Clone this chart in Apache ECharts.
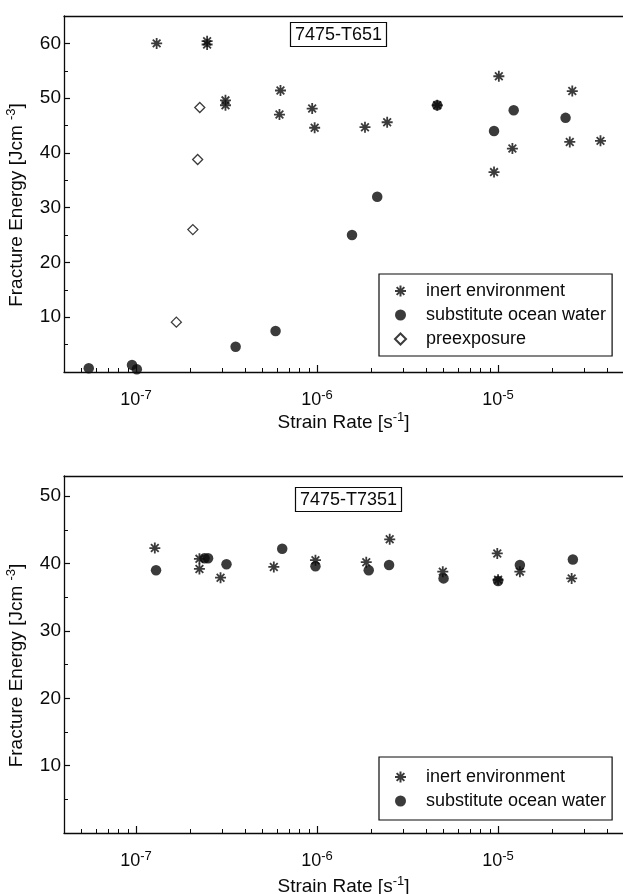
<!DOCTYPE html>
<html>
<head>
<meta charset="utf-8">
<script src="https://cdn.jsdelivr.net/npm/echarts@6/dist/echarts.min.js"></script>
<style>
  html, body { margin: 0; padding: 0; background: #fff; }
  #chart { width: 623px; height: 894px; }
</style>
</head>
<body>
<div id="chart"></div>
<script>
// strain rate range shown on both panels
var xMin = 4e-8, xMax = 4.9e-5;
var majorExp = [-7, -6, -5];
var yTicksTop = [10, 20, 30, 40, 50, 60];
var yMinorTop = [5, 15, 25, 35, 45, 55];
var yTicksBot = [10, 20, 30, 40, 50];
var yMinorBot = [5, 15, 25, 35, 45];

// 7475-T651
var inertT651X = [1.30e-7, 2.47e-7, 2.47e-7, 3.12e-7, 3.12e-7, 6.28e-7, 6.2e-7, 9.4e-7, 9.7e-7, 1.84e-6, 2.44e-6, 4.61e-6, 1.01e-5, 1.2e-5, 9.5e-6, 2.57e-5, 2.49e-5, 3.68e-5];
var inertT651Y = [60, 60.4, 59.8, 49.6, 48.7, 51.4, 47.0, 48.1, 44.6, 44.7, 45.6, 48.7, 54.0, 40.8, 36.5, 51.3, 42.0, 42.2];
var waterT651X = [5.48e-8, 9.5e-8, 1.01e-7, 3.55e-7, 5.9e-7, 1.56e-6, 2.15e-6, 4.61e-6, 9.5e-6, 1.22e-5, 2.36e-5];
var waterT651Y = [0.7, 1.3, 0.5, 4.6, 7.5, 25.0, 32.0, 48.7, 44.0, 47.8, 46.4];
var preX = [1.67e-7, 2.06e-7, 2.19e-7, 2.25e-7];
var preY = [9.1, 26.0, 38.8, 48.3];

// 7475-T7351
var inertT7351X = [1.27e-7, 2.24e-7, 2.24e-7, 2.93e-7, 5.77e-7, 9.8e-7, 1.87e-6, 2.52e-6, 4.95e-6, 9.9e-6, 1.0e-5, 1.32e-5, 2.55e-5];
var inertT7351Y = [42.3, 40.7, 39.2, 37.9, 39.5, 40.5, 40.2, 43.6, 38.8, 41.5, 37.6, 38.8, 37.8];
var waterT7351X = [1.29e-7, 2.39e-7, 2.5e-7, 3.16e-7, 6.42e-7, 9.8e-7, 1.93e-6, 2.5e-6, 5.0e-6, 1.0e-5, 1.32e-5, 2.59e-5];
var waterT7351Y = [39.0, 40.8, 40.8, 39.9, 42.2, 39.6, 39.0, 39.8, 37.8, 37.4, 39.8, 40.6];

var ink = '#0a0a0a';
var font = "'Liberation Sans', Arial, sans-serif";
var asterisk = 'path://M5,0L5,10M0,5L10,5M1.5,1.5L8.5,8.5M1.5,8.5L8.5,1.5';

function zip(xs, ys) {
  return xs.map(function (x, i) { return [x, ys[i]]; });
}

var lgMin = Math.log10(xMin), lgMax = Math.log10(xMax);
var minorExp = [];
for (var d = -8; d <= -5; d++) {
  for (var k = 2; k <= 9; k++) {
    var v = Math.log10(k) + d;
    if (v > lgMin && v < lgMax) minorExp.push(v);
  }
}

var supRich = {
  b: { fontSize: 18, fontFamily: font, color: ink, lineHeight: 22 },
  s: { fontSize: 13, fontFamily: font, color: ink, verticalAlign: 'top', lineHeight: 14 }
};
var nameRich = {
  n: { fontSize: 19, fontFamily: font, color: ink, lineHeight: 24 },
  s: { fontSize: 13, fontFamily: font, color: ink, verticalAlign: 'top', lineHeight: 15 }
};

function xAxes(g, gap) {
  return [{
    type: 'log', gridIndex: g, position: 'bottom', min: xMin, max: xMax, logBase: 10,
    axisLine: { onZero: false, lineStyle: { color: ink, width: 1.3 } },
    axisTick: { show: false }, axisLabel: { show: false }, splitLine: { show: false },
    name: '{n|Strain Rate [s}{s|-1}{n|]}', nameLocation: 'middle', nameGap: gap,
    nameTextStyle: { rich: nameRich }
  }, {
    type: 'value', gridIndex: g, position: 'bottom', min: lgMin, max: lgMax,
    axisLine: { show: false, onZero: false },
    axisTick: { inside: true, length: 7, customValues: majorExp, lineStyle: { color: ink, width: 1.2 } },
    axisLabel: {
      customValues: majorExp, margin: 17,
      formatter: function (v) { return '{b|10}{s|' + v + '}'; }, rich: supRich
    },
    splitLine: { show: false }
  }, {
    type: 'value', gridIndex: g, position: 'bottom', min: lgMin, max: lgMax,
    axisLine: { show: false, onZero: false },
    axisTick: { inside: true, length: 4, customValues: minorExp, lineStyle: { color: ink, width: 1 } },
    axisLabel: { show: false }, splitLine: { show: false }
  }, {
    type: 'value', gridIndex: g, position: 'top', min: 0, max: 1,
    axisLine: { onZero: false, lineStyle: { color: ink, width: 1.3 } },
    axisTick: { show: false }, axisLabel: { show: false }, splitLine: { show: false }
  }];
}

function yAxes(g, max, ticks, minors) {
  return [{
    type: 'value', gridIndex: g, position: 'left', min: 0, max: max,
    axisLine: { show: true, onZero: false, lineStyle: { color: ink, width: 1.3 } },
    axisTick: { inside: true, length: 6, customValues: ticks, lineStyle: { color: ink, width: 1.2 } },
    axisLabel: { customValues: ticks, margin: 3, fontSize: 19, fontFamily: font, color: ink },
    splitLine: { show: false },
    name: '{n|Fracture Energy [Jcm }{s|-3}{n|]}', nameLocation: 'middle', nameGap: 35,
    nameTextStyle: { rich: nameRich, padding: [0, 22, 0, 0] }
  }, {
    type: 'value', gridIndex: g, position: 'left', min: 0, max: max,
    axisLine: { show: false, onZero: false },
    axisTick: { inside: true, length: 4, customValues: minors, lineStyle: { color: ink, width: 1 } },
    axisLabel: { show: false }, splitLine: { show: false }
  }];
}

function inertSeries(name, x, y, xi, yi) {
  return {
    type: 'scatter', name: name, xAxisIndex: xi, yAxisIndex: yi,
    symbol: asterisk, symbolSize: 11, symbolKeepAspect: true,
    itemStyle: { color: ink, borderColor: ink, borderWidth: 1.8 },
    data: zip(x, y)
  };
}
function waterSeries(name, x, y, xi, yi) {
  return {
    type: 'scatter', name: name, xAxisIndex: xi, yAxisIndex: yi,
    symbol: 'circle', symbolSize: 10.5, symbolKeepAspect: true,
    itemStyle: { color: ink },
    data: zip(x, y)
  };
}

function legendBox(top, names, pad) {
  return {
    orient: 'vertical', left: 379, top: top,
    data: names, itemWidth: 11, itemHeight: 11, itemGap: 6,
    formatter: '   {name}',
    padding: pad,
    borderColor: ink, borderWidth: 1.2, backgroundColor: '#fff',
    textStyle: { fontSize: 18, fontFamily: font, color: ink },
    selectedMode: false
  };
}

var myChart = echarts.init(document.getElementById('chart'), null, { renderer: 'canvas' });
var option = {
  backgroundColor: '#fff',
  animation: false,
  title: [{
    text: '7475-T651', left: 290, top: 22, padding: [4, 5, 3, 5],
    borderColor: ink, borderWidth: 1.2,
    textStyle: { fontSize: 18, fontWeight: 'normal', fontFamily: font, color: ink }
  }, {
    text: '7475-T7351', left: 295, top: 487, padding: [4, 5, 3, 5],
    borderColor: ink, borderWidth: 1.2,
    textStyle: { fontSize: 18, fontWeight: 'normal', fontFamily: font, color: ink }
  }],
  legend: [
    legendBox(274, ['inert environment', 'substitute ocean water', 'preexposure'], [8, 6, 8, 15]),
    legendBox(757, ['inert environment', 'substitute ocean water'], [11, 6, 10, 15])
  ],
  grid: [
    { left: 64, right: 0, top: 16, height: 356, outerBoundsMode: 'none', containLabel: false },
    { left: 64, right: 0, top: 476, height: 357, outerBoundsMode: 'none', containLabel: false }
  ],
  xAxis: xAxes(0, 39).concat(xAxes(1, 42)),
  yAxis: yAxes(0, 65, yTicksTop, yMinorTop).concat(yAxes(1, 53, yTicksBot, yMinorBot)),
  series: [
    inertSeries('inert environment', inertT651X, inertT651Y, 0, 0),
    waterSeries('substitute ocean water', waterT651X, waterT651Y, 0, 0),
    {
      type: 'scatter', name: 'preexposure', xAxisIndex: 0, yAxisIndex: 0,
      symbol: 'diamond', symbolSize: 10, symbolKeepAspect: true,
      itemStyle: { color: '#fff', borderColor: ink, borderWidth: 1.3 },
      data: zip(preX, preY)
    },
    inertSeries('inert environment', inertT7351X, inertT7351Y, 4, 2),
    waterSeries('substitute ocean water', waterT7351X, waterT7351Y, 4, 2)
  ]
};
myChart.setOption(option, true);
window.addEventListener('resize', function () {
  myChart.resize();
});
</script>
</body>
</html>
